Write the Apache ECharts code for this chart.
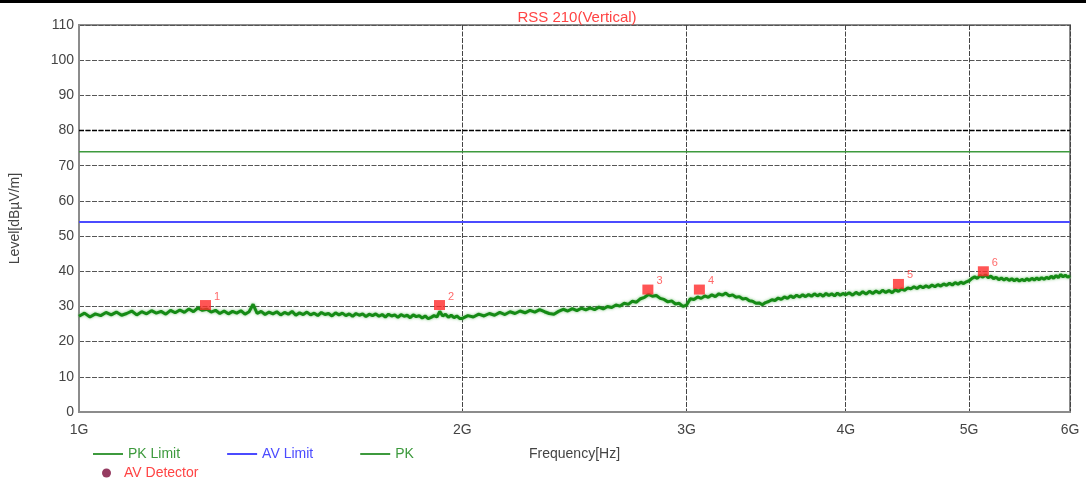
<!DOCTYPE html>
<html>
<head>
<meta charset="utf-8">
<script src="https://cdn.jsdelivr.net/npm/echarts@6/dist/echarts.min.js"></script>
<style>
html,body{margin:0;padding:0;background:#fff;}
#chart{width:1086px;height:483px;}
</style>
</head>
<body>
<div id="chart"></div>
<script>
// Frequency (MHz) of the PK trace points
var freqA = [1000,1010,1020,1030,1040,1050,1060,1070,1080,1090,1100,1110,1120,1130,1140,1150,1160,1170,1180,1190,1200,1210,1220,1230,1240,1250,1260,1270,1280,1290,1300,1310,1320,1330,1340,1350,1360,1370,1380,1390,1400,1410,1420,1430,1440,1450,1460,1470,1480,1490,1500,1510,1520,1530,1540,1550,1560,1570,1580,1590,1600,1610,1620,1630,1640,1650,1660,1670,1680,1690,1700,1710,1720,1730,1740,1750,1760,1770,1780,1790,1800,1810,1820,1830,1840,1850,1860,1870,1880,1890,1900,1910,1920,1930,1940,1950,1960,1970,1980,1990];
var pkA = [27.2,28.1,27.0,27.9,27.4,28.3,27.6,28.4,27.5,28.0,28.7,27.6,28.5,27.9,28.8,28.1,28.6,27.8,28.9,28.2,29.0,28.3,29.3,28.5,29.6,28.9,29.2,28.4,28.9,28.0,28.7,27.9,28.6,28.1,28.8,27.8,28.5,30.6,28.0,28.6,27.7,28.4,27.9,28.5,27.6,28.3,27.8,28.6,27.5,28.2,27.7,28.4,27.6,28.1,27.4,28.3,27.7,28.0,27.3,28.2,27.6,28.1,27.4,27.9,27.2,28.0,27.5,27.9,27.1,27.8,27.4,27.9,27.2,27.7,27.0,27.8,27.3,27.6,26.9,27.7,27.2,27.5,26.8,27.6,27.1,27.4,26.7,27.3,26.5,26.9,27.4,27.0,28.6,27.3,27.8,26.9,27.5,26.8,27.3,26.6];
var freqB = [2000,2020,2040,2060,2080,2100,2120,2140,2160,2180,2200,2220,2240,2260,2280,2300,2320,2340,2360,2380,2400,2420,2440,2460,2480,2500,2520,2540,2560,2580,2600,2620,2640,2660,2680,2700,2720,2740,2760,2780,2800,2820,2840,2860,2880,2900,2920,2940,2960,2980,3000,3020,3040,3060,3080,3100,3120,3140,3160,3180,3200,3220,3240,3260,3280,3300,3320,3340,3360,3380,3400,3420,3440,3460,3480,3500,3520,3540,3560,3580,3600,3620,3640,3660,3680,3700,3720,3740,3760,3780,3800,3820,3840,3860,3880,3900,3920,3940,3960,3980];
var pkB = [26.6,27.4,27.0,27.8,27.3,28.0,27.5,28.3,27.7,28.5,28.0,28.7,28.2,28.9,28.4,29.1,28.5,28.0,27.8,28.6,29.2,28.7,29.4,28.8,29.5,29.0,29.6,29.1,29.8,29.3,30.0,29.7,30.4,30.1,30.9,30.6,31.5,31.2,32.2,32.6,33.4,32.9,33.1,32.3,32.0,31.3,31.6,30.7,30.9,30.0,30.4,32.2,32.0,32.7,32.3,33.0,32.6,33.3,32.8,33.6,33.2,33.8,33.0,33.3,32.6,32.8,32.1,32.3,31.6,31.5,30.9,31.0,30.5,31.1,31.4,31.9,31.7,32.4,32.0,32.7,32.3,33.0,32.5,33.2,32.7,33.3,32.8,33.4,32.9,33.6,33.0,33.5,32.9,33.7,33.1,33.6,33.0,33.8,33.2,33.7];
var freqC = [4000,4025,4050,4075,4100,4125,4150,4175,4200,4225,4250,4275,4300,4325,4350,4375,4400,4425,4450,4475,4500,4525,4550,4575,4600,4625,4650,4675,4700,4725,4750,4775,4800,4825,4850,4875,4900,4925,4950,4975,5000,5025,5050,5075,5100,5125,5150,5175,5200,5225,5250,5275,5300,5325,5350,5375,5400,5425,5450,5475,5500,5525,5550,5575,5600,5625,5650,5675,5700,5725,5750,5775,5800,5825,5850,5875,5900,5925,5950,5975,6000];
var pkC = [33.3,33.9,33.2,34.0,33.4,34.2,33.5,34.3,33.7,34.4,33.8,34.6,34.0,34.5,33.9,34.8,34.3,35.0,34.6,35.3,35.0,35.6,35.1,35.8,35.3,35.9,35.4,36.1,35.6,36.2,35.8,36.4,36.0,36.6,36.1,36.8,36.3,36.9,36.5,37.0,37.3,38.0,38.4,38.0,38.8,38.3,39.0,38.2,38.6,37.9,38.3,37.6,38.1,37.5,38.0,37.4,37.9,37.3,37.8,37.2,37.7,37.3,37.9,37.4,38.0,37.5,38.1,37.6,38.2,37.7,38.3,37.9,38.6,38.0,38.8,38.2,39.1,38.4,38.9,38.3,38.7];

// Limits
var limitFreq = [1000, 6000];
var pkLimit = [74, 74];
var avLimit = [54, 54];

// AV detector markers
var markerFreq = [1257, 1919, 2797, 3070, 4400, 5130];
var markerLevel = [30.4, 30.4, 34.8, 34.8, 36.4, 40.0];
var markerNames = ['1', '2', '3', '4', '5', '6'];

// Axis ticks
var xTicks = [1000, 2000, 3000, 4000, 5000, 6000];
var xTickLabels = ['1G', '2G', '3G', '4G', '5G', '6G'];
var boldGridLevel = 80;

function zip(xs, ys) { return xs.map(function (x, i) { return [x, ys[i]]; }); }
var pkData = zip(freqA, pkA).concat(zip(freqB, pkB), zip(freqC, pkC));

var FONT = 'Liberation Sans, Arial, sans-serif';
var chart = echarts.init(document.getElementById('chart'), null, {renderer: 'canvas'});
chart.setOption({
  animation: false,
  backgroundColor: '#ffffff',
  title: {
    text: 'RSS 210(Vertical)',
    left: 572, textAlign: 'center', top: 5,
    textStyle: {color: '#ff4444', fontSize: 15, fontWeight: 'normal', fontFamily: FONT}
  },
  graphic: [{type: 'rect', left: 0, top: 0, shape: {width: 1086, height: 3}, style: {fill: '#000'}}],
  grid: {left: 75, right: 16, top: 25, bottom: 71, show: true, borderColor: '#8c8c8c', borderWidth: 2, containLabel: false},
  legend: [{
    left: 88, top: 442, orient: 'horizontal',
    itemWidth: 30, itemHeight: 2, itemGap: 47, icon: 'rect',
    textStyle: {fontSize: 14, fontFamily: FONT},
    selectedMode: false,
    data: [
      {name: 'PK Limit', textStyle: {color: '#3d9a3d'}},
      {name: 'AV Limit', textStyle: {color: '#4b4bff'}},
      {name: 'PK', textStyle: {color: '#3d9a3d'}}
    ]
  }, {
    left: 97, top: 461, orient: 'horizontal',
    itemWidth: 9, itemHeight: 9,
    textStyle: {fontSize: 14, fontFamily: FONT, padding: [0, 0, 0, 8]},
    selectedMode: false,
    data: [{name: 'AV Detector', icon: 'circle', itemStyle: {color: '#7a0a3a'}, textStyle: {color: '#ff4444'}}]
  }],
  xAxis: {
    type: 'log', logBase: 10, min: 1000, max: 6000,
    name: 'Frequency[Hz]', nameLocation: 'middle', nameGap: 35,
    nameTextStyle: {color: '#444', fontSize: 14, fontFamily: FONT},
    axisLine: {show: true, lineStyle: {color: '#8c8c8c', width: 2}},
    axisTick: {show: false, customValues: xTicks},
    axisLabel: {customValues: xTicks, color: '#444', fontSize: 14, fontFamily: FONT, margin: 11,
      formatter: function (v) { var i = xTicks.indexOf(Math.round(v)); return i >= 0 ? xTickLabels[i] : ''; }},
    splitLine: {show: true, lineStyle: {color: '#444', type: [5, 1.5], width: 1}},
    minorSplitLine: {show: false}
  },
  yAxis: {
    type: 'value', min: 0, max: 110, interval: 10,
    name: 'Level[dBµV/m]', nameLocation: 'middle', nameGap: 57, nameRotate: 90,
    nameTextStyle: {color: '#444', fontSize: 14, fontFamily: FONT},
    axisLine: {show: true, lineStyle: {color: '#8c8c8c', width: 2}},
    axisTick: {show: false},
    axisLabel: {color: '#444', fontSize: 14, fontFamily: FONT, margin: 5},
    splitLine: {show: true, lineStyle: {color: '#555', type: [5, 1.5], width: 1}}
  },
  series: [
    {name: 'PK Limit', type: 'line', data: zip(limitFreq, pkLimit), showSymbol: false, symbol: 'none',
      lineStyle: {color: '#3d9a3d', width: 1.5}, itemStyle: {color: '#3d9a3d'}, z: 3,
      markLine: {silent: true, symbol: 'none', label: {show: false},
        lineStyle: {color: '#000', type: [5, 1.5], width: 1.4},
        data: [{yAxis: boldGridLevel}]}},
    {name: 'AV Limit', type: 'line', data: zip(limitFreq, avLimit), showSymbol: false, symbol: 'none',
      lineStyle: {color: '#4b4bff', width: 2}, itemStyle: {color: '#4b4bff'}, z: 3},
    {name: 'PK', type: 'line', data: pkData, showSymbol: false, symbol: 'none',
      lineStyle: {color: '#158a15', width: 3, shadowBlur: 3, shadowColor: 'rgba(60,170,60,0.7)'},
      itemStyle: {color: '#3d9a3d'}, z: 4},
    {name: 'AV Detector', type: 'scatter', symbol: 'rect', symbolSize: [11, 10],
      data: zip(markerFreq, markerLevel),
      itemStyle: {color: '#ff2a2a'}, z: 6,
      label: {show: true, position: [14, -9], color: '#ff4444', fontSize: 11, fontFamily: FONT,
        formatter: function (p) { return markerNames[p.dataIndex]; }}}
  ]
});
</script>
</body>
</html>
